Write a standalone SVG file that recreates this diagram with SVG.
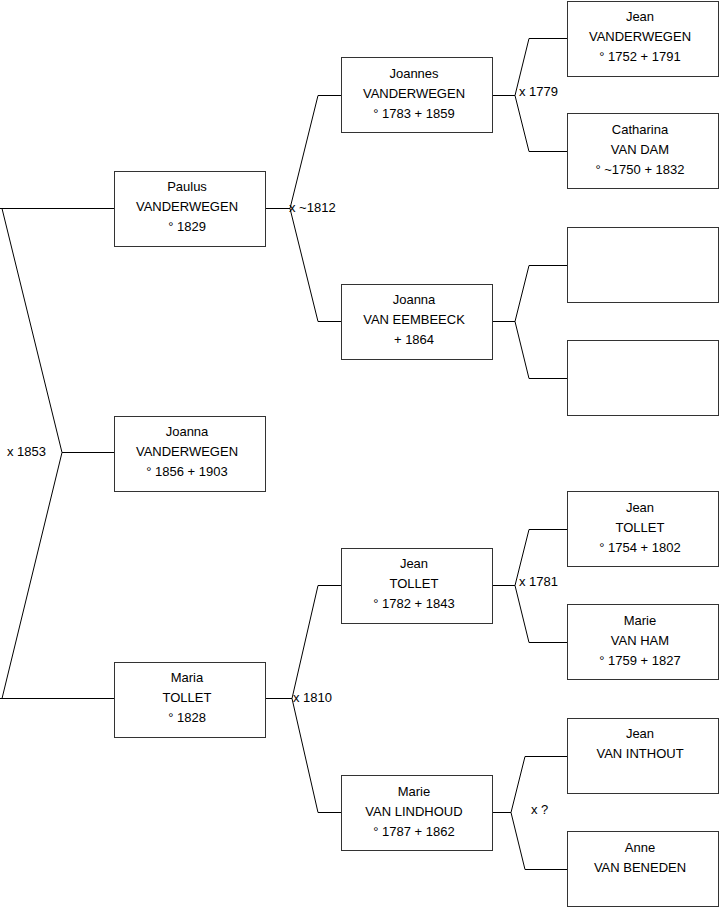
<svg xmlns="http://www.w3.org/2000/svg" width="719" height="908" viewBox="0 0 719 908">
<style>
rect.b{fill:#fff;stroke:#333;stroke-width:1}
text{font-family:"Liberation Sans",Arial,sans-serif;font-size:13px;fill:#000}
text.c{text-anchor:middle}
#connectors path{fill:none;stroke:#000;stroke-width:1}
</style>
<rect width="719" height="908" fill="#fff"/>
<g id="connectors">
<path d="M0,208.5H114.5M2,208.5L62,452.5L2,698.5M0,698.5H114.5M62,452.5H114.5"/>
<path d="M265.5,208.5H290M318,95.5L290,208.5L318,321.5M318,95.5H341.5M318,321.5H341.5"/>
<path d="M265.5,698.5H292M318,585.5L292,698.5L318,812.5M318,585.5H341.5M318,812.5H341.5"/>
<path d="M492.5,95.5H515M529,38.5L515,95.5L529,151.5M529,38.5H567.5M529,151.5H567.5"/>
<path d="M492.5,321.5H515M529,265.5L515,321.5L529,378.5M529,265.5H567.5M529,378.5H567.5"/>
<path d="M492.5,585.5H515M529,529.5L515,585.5L529,642.5M529,529.5H567.5M529,642.5H567.5"/>
<path d="M492.5,812.5H511M525,756.5L511,812.5L525,869.5M525,756.5H567.5M525,869.5H567.5"/>
<text x="7" y="456">x 1853</text>
<text x="289" y="212">x ~1812</text>
<text x="293" y="702">x 1810</text>
<text x="519" y="96">x 1779</text>
<text x="519" y="586">x 1781</text>
<text x="531" y="814">x ?</text>
</g>
<g id="paulus"><rect class="b" x="114.5" y="171.5" width="151" height="75"/><text class="c" x="187" y="191">Paulus</text><text class="c" x="187" y="211">VANDERWEGEN</text><text class="c" x="187" y="231">° 1829</text></g>
<g id="joanna-child"><rect class="b" x="114.5" y="416.5" width="151" height="75"/><text class="c" x="187" y="436">Joanna</text><text class="c" x="187" y="456">VANDERWEGEN</text><text class="c" x="187" y="476">° 1856 + 1903</text></g>
<g id="maria"><rect class="b" x="114.5" y="662.5" width="151" height="75"/><text class="c" x="187" y="682">Maria</text><text class="c" x="187" y="702">TOLLET</text><text class="c" x="187" y="722">° 1828</text></g>
<g id="joannes"><rect class="b" x="341.5" y="57.5" width="151" height="75"/><text class="c" x="414" y="78">Joannes</text><text class="c" x="414" y="98">VANDERWEGEN</text><text class="c" x="414" y="118">° 1783 + 1859</text></g>
<g id="joanna-ve"><rect class="b" x="341.5" y="284.5" width="151" height="75"/><text class="c" x="414" y="304">Joanna</text><text class="c" x="414" y="324">VAN EEMBEECK</text><text class="c" x="414" y="344">+ 1864</text></g>
<g id="jean-tollet-1782"><rect class="b" x="341.5" y="548.5" width="151" height="75"/><text class="c" x="414" y="568">Jean</text><text class="c" x="414" y="588">TOLLET</text><text class="c" x="414" y="608">° 1782 + 1843</text></g>
<g id="marie-vl"><rect class="b" x="341.5" y="775.5" width="151" height="75"/><text class="c" x="414" y="796">Marie</text><text class="c" x="414" y="816">VAN LINDHOUD</text><text class="c" x="414" y="836">° 1787 + 1862</text></g>
<g id="jean-vdw"><rect class="b" x="567.5" y="1.5" width="151" height="75"/><text class="c" x="640" y="21">Jean</text><text class="c" x="640" y="41">VANDERWEGEN</text><text class="c" x="640" y="61">° 1752 + 1791</text></g>
<g id="catharina"><rect class="b" x="567.5" y="113.5" width="151" height="75"/><text class="c" x="640" y="134">Catharina</text><text class="c" x="640" y="154">VAN DAM</text><text class="c" x="640" y="174">° ~1750 + 1832</text></g>
<g id="empty1"><rect class="b" x="567.5" y="227.5" width="151" height="75"/></g>
<g id="empty2"><rect class="b" x="567.5" y="340.5" width="151" height="75"/></g>
<g id="jean-tollet-1754"><rect class="b" x="567.5" y="491.5" width="151" height="75"/><text class="c" x="640" y="512">Jean</text><text class="c" x="640" y="532">TOLLET</text><text class="c" x="640" y="552">° 1754 + 1802</text></g>
<g id="marie-vh"><rect class="b" x="567.5" y="604.5" width="151" height="75"/><text class="c" x="640" y="625">Marie</text><text class="c" x="640" y="645">VAN HAM</text><text class="c" x="640" y="665">° 1759 + 1827</text></g>
<g id="jean-vi"><rect class="b" x="567.5" y="718.5" width="151" height="75"/><text class="c" x="640" y="738">Jean</text><text class="c" x="640" y="758">VAN INTHOUT</text></g>
<g id="anne"><rect class="b" x="567.5" y="831.5" width="151" height="75"/><text class="c" x="640" y="852">Anne</text><text class="c" x="640" y="872">VAN BENEDEN</text></g>
</svg>
